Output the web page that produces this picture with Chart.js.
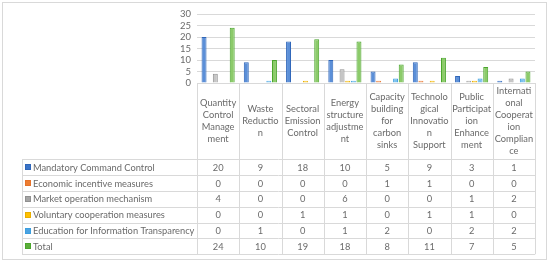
<!DOCTYPE html>
<html>
<head>
<meta charset="utf-8">
<script src="https://cdn.jsdelivr.net/npm/chart.js@4"></script>
<style>
  body { margin: 0; background: #fff; }
  #wrap { width: 550px; height: 264px; }
</style>
</head>
<body>
<div id="wrap"><canvas id="c" width="550" height="264"></canvas></div>
<script>
// category names, wrapped as in the picture
const categories = [
  ['Quantity', 'Control', 'Manage', 'ment'],
  ['Waste', 'Reductio', 'n'],
  ['Sectoral', 'Emission', 'Control'],
  ['Energy', 'structure', 'adjustme', 'nt'],
  ['Capacity', 'building', 'for', 'carbon', 'sinks'],
  ['Technolo', 'gical', 'Innovatio', 'n', 'Support'],
  ['Public', 'Participat', 'ion', 'Enhance', 'ment'],
  ['Internati', 'onal', 'Cooperat', 'ion', 'Complian', 'ce']
];

const seriesNames = [
  'Mandatory Command Control',
  'Economic incentive measures',
  'Market operation mechanism',
  'Voluntary cooperation measures',
  'Education for Information Transparency',
  'Total'
];

const mandatory = [20, 9, 18, 10, 5, 9, 3, 1];
const economic = [0, 0, 0, 0, 1, 1, 0, 0];
const market = [4, 0, 0, 6, 0, 0, 1, 2];
const voluntary = [0, 0, 1, 1, 0, 1, 1, 0];
const education = [0, 1, 0, 1, 2, 0, 2, 2];
const total = [24, 10, 19, 18, 8, 11, 7, 5];

const yTicks = [0, 5, 10, 15, 20, 25, 30];

const fills = ['#5b8fd8', '#f4a470', '#c6c6c6', '#ffcf40', '#7cc2ee', '#8ccb6a'];
const borders = ['#2f66b9', '#e5722a', '#909090', '#e8ae00', '#3c9fdf', '#4aa52c'];
const swatches = ['#3a74c8', '#ed7d31', '#a5a5a5', '#ffc000', '#4ba3e3', '#5cae3a'];

const allSeries = [mandatory, economic, market, voluntary, education, total];

const FONT = 'Lato, "Open Sans", sans-serif';
const TEXT = '#6a6a6a';
const LINE = '#d9d9d9';

const tablePlugin = {
  id: 'dataTable',
  afterDraw(chart) {
    const ctx = chart.ctx;
    const area = chart.chartArea;
    const n = categories.length;
    const colW = (area.right - area.left) / n;
    const tableLeft = 22;
    const headTop = area.bottom;
    const headBottom = 159.3;
    const rowH = 15.83;
    const tableBottom = headBottom + rowH * allSeries.length;

    ctx.save();
    ctx.strokeStyle = LINE;
    ctx.lineWidth = 1;

    // outer border of the chart
    ctx.strokeRect(2.5, 2.5, 544, 257);

    ctx.beginPath();
    // column lines
    for (let i = 0; i <= n; i++) {
      const x = Math.round(area.left + i * colW) + 0.5;
      ctx.moveTo(x, headTop);
      ctx.lineTo(x, tableBottom);
    }
    // left border of the table
    ctx.moveTo(tableLeft + 0.5, headBottom);
    ctx.lineTo(tableLeft + 0.5, tableBottom);
    // row lines
    for (let r = 0; r <= allSeries.length; r++) {
      const y = Math.round(headBottom + r * rowH) + 0.5;
      ctx.moveTo(tableLeft, y);
      ctx.lineTo(area.right, y);
    }
    ctx.stroke();

    ctx.fillStyle = TEXT;
    ctx.textAlign = 'center';
    ctx.textBaseline = 'middle';
    ctx.font = '9.3px ' + FONT;

    // category headers
    const midY = (headTop + headBottom) / 2;
    categories.forEach((lines, i) => {
      const cx = area.left + (i + 0.5) * colW;
      const y0 = midY - (lines.length - 1) * 12 / 2;
      lines.forEach((t, k) => ctx.fillText(t, cx, y0 + k * 12));
    });

    // rows
    allSeries.forEach((vals, r) => {
      const cy = headBottom + (r + 0.5) * rowH;
      ctx.fillStyle = swatches[r];
      ctx.fillRect(25, Math.round(cy - 3), 6, 6);
      ctx.strokeStyle = borders[r];
      ctx.strokeRect(25.5, Math.round(cy - 3) + 0.5, 5, 5);
      ctx.fillStyle = TEXT;
      ctx.textAlign = 'left';
      ctx.fillText(seriesNames[r], 33, cy + 0.5);
      ctx.textAlign = 'center';
      vals.forEach((v, i) => {
        ctx.fillText(String(v), area.left + (i + 0.5) * colW, cy + 0.5);
      });
    });
    ctx.restore();
  }
};

new Chart(document.getElementById('c'), {
  type: 'bar',
  data: {
    labels: categories.map(l => l.join(' ')),
    datasets: allSeries.map((vals, i) => ({
      label: seriesNames[i],
      data: vals,
      backgroundColor: fills[i],
      borderColor: borders[i],
      borderWidth: c => (c.raw === 0 ? 0 : 1),
      categoryPercentage: 0.8,
      barPercentage: 0.88
    }))
  },
  options: {
    responsive: false,
    animation: false,
    layout: { padding: { left: 0, top: 14, right: 15, bottom: 181 } },
    plugins: {
      legend: { display: false },
      tooltip: { enabled: false }
    },
    scales: {
      x: { display: false },
      y: {
        min: 0,
        max: 30,
        afterFit(scale) { scale.width = 197; },
        afterBuildTicks(scale) { scale.ticks = yTicks.map(v => ({ value: v })); },
        grid: { color: LINE, drawTicks: false },
        border: { display: false },
        ticks: { color: TEXT, padding: 6, autoSkip: false, font: { family: FONT, size: 9.5 } }
      }
    }
  },
  plugins: [tablePlugin]
});
</script>
</body>
</html>
